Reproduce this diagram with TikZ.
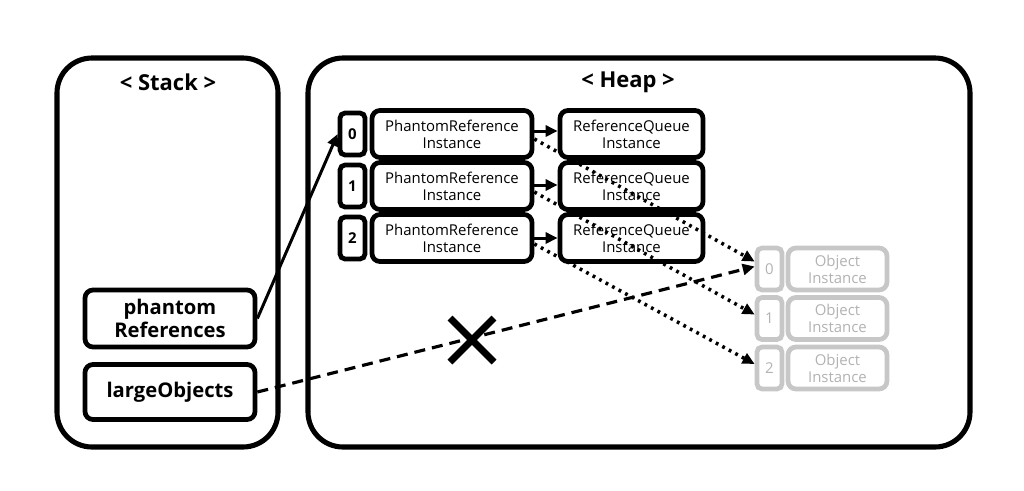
\documentclass[tikz,border=0pt]{standalone}
\usepackage{fontspec}
\setmainfont{Open Sans}
\usetikzlibrary{arrows.meta}

\tikzset{
  area/.style={line width=2.9pt, rounded corners=0.7cm},
  varbox/.style={draw, line width=2.7pt, rounded corners=0.16cm, align=center,
    font=\bfseries\fontsize{11.5}{13}\selectfont, minimum width=3.4cm},
  idxbox/.style={draw, line width=2.7pt, rounded corners=0.1cm, minimum width=0.5cm,
    minimum height=0.84cm, inner sep=0pt, font=\bfseries\fontsize{8.5}{10}\selectfont},
  instbox/.style={draw, line width=2.7pt, rounded corners=0.16cm, align=center,
    minimum height=0.94cm, inner sep=1pt, font=\fontsize{8.5}{9.6}\selectfont},
  ghost/.style={draw=black!22, text=black!30},
  ref/.style={line width=1.7pt, -{Triangle[length=0.24cm,width=0.22cm]}},
  weak/.style={line width=2pt, dash pattern=on 1.6pt off 2.6pt, -{Triangle[length=0.24cm,width=0.22cm]}},
  lost/.style={line width=1.8pt, dash pattern=on 0.22cm off 0.14cm, -{Triangle[length=0.24cm,width=0.22cm]}}
}

\begin{document}
\begin{tikzpicture}
\useasboundingbox (0,0) rectangle (20.48,-9.8);

% Draw the two memory areas
\draw[area] (1.14,-1.16) rectangle (5.56,-8.94);
\node[font=\bfseries\fontsize{12.5}{14}\selectfont] (stacktitle) at (3.36,-1.64) {< Stack >};
\draw[area] (6.16,-1.16) rectangle (19.4,-8.94);
\node[font=\bfseries\fontsize{12.5}{14}\selectfont] (heaptitle) at (12.56,-1.64) {< Heap >};

% Stack variables
\node[varbox, minimum height=1.14cm] (phantoms) at (3.4,-6.37) {phantom\\References};
\node[varbox, minimum height=1.1cm] (large) at (3.4,-7.84) {largeObjects};

% List of phantom references
\node[idxbox] (i0) at (7.05,-2.68) {0};
\node[instbox, minimum width=3.2cm] (pr0) at (9.04,-2.68) {PhantomReference\\Instance};
\node[instbox, minimum width=2.86cm] (rq0) at (12.63,-2.68) {ReferenceQueue\\Instance};
\node[idxbox] (i1) at (7.05,-3.72) {1};
\node[instbox, minimum width=3.2cm] (pr1) at (9.04,-3.72) {PhantomReference\\Instance};
\node[instbox, minimum width=2.86cm] (rq1) at (12.63,-3.72) {ReferenceQueue\\Instance};
\node[idxbox] (i2) at (7.05,-4.76) {2};
\node[instbox, minimum width=3.2cm] (pr2) at (9.04,-4.76) {PhantomReference\\Instance};
\node[instbox, minimum width=2.86cm] (rq2) at (12.63,-4.76) {ReferenceQueue\\Instance};

% Unreachable objects
\node[idxbox, ghost, font=\fontsize{8.5}{10}\selectfont] (o0) at (15.39,-5.38) {0};
\node[instbox, ghost, minimum width=1.98cm, minimum height=0.84cm] (obj0) at (16.75,-5.38) {Object\\Instance};
\node[idxbox, ghost, font=\fontsize{8.5}{10}\selectfont] (o1) at (15.39,-6.37) {1};
\node[instbox, ghost, minimum width=1.98cm, minimum height=0.84cm] (obj1) at (16.75,-6.37) {Object\\Instance};
\node[idxbox, ghost, font=\fontsize{8.5}{10}\selectfont] (o2) at (15.39,-7.36) {2};
\node[instbox, ghost, minimum width=1.98cm, minimum height=0.84cm] (obj2) at (16.75,-7.36) {Object\\Instance};

% References
\draw[ref] (phantoms.east) -- (i0.west);
\draw[ref] ([yshift=0.06cm]pr0.east) -- ([yshift=0.06cm]rq0.west);
\draw[ref] ([yshift=0.02cm]pr1.east) -- ([yshift=0.02cm]rq1.west);
\draw[ref] (pr2.east) -- (rq2.west);
\draw[weak] ([yshift=-0.1cm]pr0.east) -- ([yshift=0.15cm]o0.west);
\draw[weak] ([yshift=-0.12cm]pr1.east) -- ([yshift=0.08cm]o1.west);
\draw[weak] ([yshift=-0.12cm]pr2.east) -- ([yshift=0.08cm]o2.west);
\draw[lost] (large.east) -- ([yshift=0.05cm]o0.west);

% Broken link
\node[inner sep=0pt] (cut) at (9.44,-6.8) {};
\draw[line width=4pt] ([shift={(-0.44,0.44)}]cut.center) -- ([shift={(0.44,-0.44)}]cut.center);
\draw[line width=4pt] ([shift={(-0.44,-0.44)}]cut.center) -- ([shift={(0.44,0.44)}]cut.center);
\end{tikzpicture}
\end{document}
